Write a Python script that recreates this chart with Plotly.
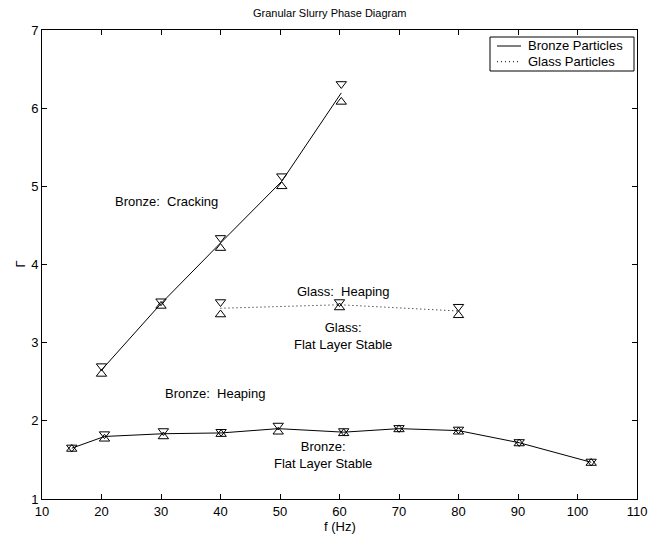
import plotly.graph_objects as go

# ---- data ----
bronze_crack_f = [20, 30, 40, 50.3, 60.3]
bronze_crack_upper = [2.70, 3.53, 4.34, 5.13, 6.31]
bronze_crack_lower = [2.60, 3.47, 4.21, 5.00, 6.08]

glass_f = [40, 60, 80]
glass_upper = [3.52, 3.52, 3.46]
glass_lower = [3.36, 3.45, 3.35]

bronze_flat_f = [15, 20.5, 30.4, 40.1, 49.7, 60.7, 70, 80, 90.2, 102.3]
bronze_flat_upper = [1.66, 1.83, 1.87, 1.86, 1.94, 1.87, 1.91, 1.89, 1.73, 1.48]
bronze_flat_lower = [1.64, 1.77, 1.80, 1.83, 1.86, 1.84, 1.89, 1.86, 1.71, 1.46]

x_ticks = [10, 20, 30, 40, 50, 60, 70, 80, 90, 100, 110]
y_ticks = [1, 2, 3, 4, 5, 6, 7]

labels = [
    # text, x, y, xanchor
    ("Bronze:  Cracking", 21.9, 4.81, "left"),
    ("Glass:  Heaping", 52.6, 3.66, "left"),
    ("Glass:<br>Flat Layer Stable", 60.6, 3.085, "center"),
    ("Bronze:  Heaping", 30.4, 2.35, "left"),
    ("Bronze:<br>Flat Layer Stable", 57.2, 1.56, "center"),
]

legend_names = ["Bronze Particles", "Glass Particles"]
legend_dashes = ["solid", "1px,3px"]

FONT = "Liberation Sans, Arial, Helvetica, sans-serif"

# page has an 8px body margin; plot area in page pixels: x 42..637, y 30..499
OFF = 8
PL, PR, PT, PB = 42, 637, 30, 499
W, H = 659 - OFF, 535 - OFF


def px_to_paper_x(px):
    return (px - PL) / (PR - PL)


def px_to_paper_y(py):
    return (PB - py) / (PB - PT)


def mean(a, b):
    return [(p + q) / 2 for p, q in zip(a, b)]


fig = go.Figure()

# lines
fig.add_trace(go.Scatter(x=bronze_crack_f, y=mean(bronze_crack_upper, bronze_crack_lower),
                         mode="lines", line=dict(color="black", width=1),
                         name=legend_names[0]))
fig.add_trace(go.Scatter(x=bronze_flat_f, y=mean(bronze_flat_upper, bronze_flat_lower),
                         mode="lines", line=dict(color="black", width=1),
                         name=legend_names[0]))
fig.add_trace(go.Scatter(x=glass_f, y=mean(glass_upper, glass_lower),
                         mode="lines", line=dict(color="black", width=1, dash=legend_dashes[1]),
                         name=legend_names[1]))

# markers
mk_down = dict(symbol="triangle-down-open", size=9, color="black", line=dict(width=1, color="black"))
mk_up = dict(symbol="triangle-up-open", size=9, color="black", line=dict(width=1, color="black"))
for fx, up, lo in [(bronze_crack_f, bronze_crack_upper, bronze_crack_lower),
                   (glass_f, glass_upper, glass_lower),
                   (bronze_flat_f, bronze_flat_upper, bronze_flat_lower)]:
    fig.add_trace(go.Scatter(x=fx, y=up, mode="markers", marker=mk_down))
    fig.add_trace(go.Scatter(x=fx, y=lo, mode="markers", marker=mk_up))

annotations = []
for t, x, y, xa in labels:
    annotations.append(dict(text=t, x=x, y=y, xref="x", yref="y", showarrow=False,
                            xanchor=xa, yanchor="middle", align="center",
                            font=dict(size=13, color="black", family=FONT)))
# title and axis titles
annotations.append(dict(text="Granular Slurry Phase Diagram", x=px_to_paper_x(329),
                        y=px_to_paper_y(13), xref="paper", yref="paper",
                        showarrow=False, xanchor="center", yanchor="middle",
                        font=dict(size=11, color="black", family=FONT)))
annotations.append(dict(text="f (Hz)", x=0.5, y=px_to_paper_y(526), xref="paper", yref="paper",
                        showarrow=False, xanchor="center", yanchor="middle",
                        font=dict(size=13, color="black", family=FONT)))
annotations.append(dict(text="Γ", x=px_to_paper_x(20), y=0.5, xref="paper", yref="paper",
                        showarrow=False, xanchor="center", yanchor="middle", textangle=-90,
                        font=dict(size=13, color="black", family=FONT)))

# manual legend (box, samples, texts)
shapes = [dict(type="rect", xref="paper", yref="paper",
               x0=px_to_paper_x(490), x1=px_to_paper_x(634),
               y0=px_to_paper_y(71), y1=px_to_paper_y(37),
               line=dict(color="black", width=1), fillcolor="white", layer="above")]
for i, (nm, ds) in enumerate(zip(legend_names, legend_dashes)):
    yy = 46 + i * 15.7
    shapes.append(dict(type="line", xref="paper", yref="paper",
                       x0=px_to_paper_x(497), x1=px_to_paper_x(521),
                       y0=px_to_paper_y(yy), y1=px_to_paper_y(yy),
                       line=dict(color="black", width=1, dash=ds), layer="above"))
    annotations.append(dict(text=nm, x=px_to_paper_x(526), y=px_to_paper_y(yy),
                            xref="paper", yref="paper", showarrow=False,
                            xanchor="left", yanchor="middle",
                            font=dict(size=13, color="black", family=FONT)))

axis_common = dict(showgrid=False, zeroline=False, showline=True, linecolor="black", linewidth=1,
                   mirror="ticks", ticks="inside", ticklen=5, tickcolor="black", tickwidth=1,
                   tickfont=dict(size=13, color="black", family=FONT))

fig.update_layout(
    width=W, height=H,
    margin=dict(l=PL - OFF, r=659 - PR, t=PT - OFF, b=535 - PB, autoexpand=False),
    plot_bgcolor="white", paper_bgcolor="white",
    font=dict(family=FONT, size=13, color="black"),
    xaxis=dict(range=[10, 110], tickvals=x_ticks, **axis_common),
    yaxis=dict(range=[1, 7], tickvals=y_ticks, **axis_common),
    annotations=annotations,
    shapes=shapes,
    showlegend=False,
)

fig.write_html("out.html")
